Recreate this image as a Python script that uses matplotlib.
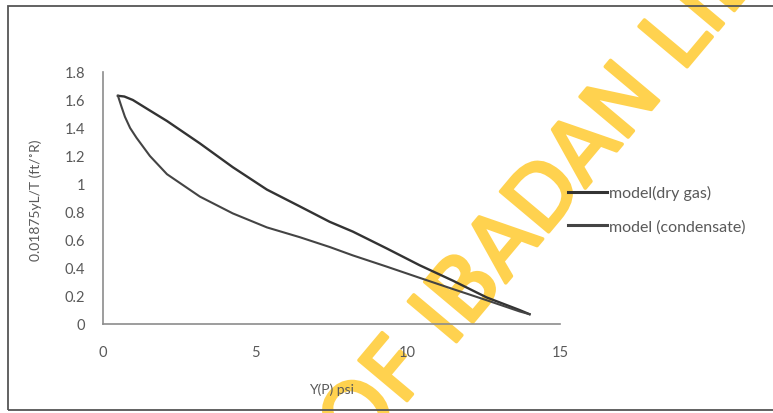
import matplotlib.pyplot as plt
import matplotlib.patheffects as pe
from matplotlib.patches import Rectangle

# Данные
x_dry = [0.49, 0.7, 0.98, 1.5, 2.1, 3.18, 4.26, 5.38, 6.46, 7.44, 8.2, 9.31, 10.39, 11.48, 12.59, 13.67, 14.0]
y_dry = [1.63, 1.625, 1.60, 1.53, 1.45, 1.29, 1.12, 0.96, 0.84, 0.73, 0.66, 0.54, 0.42, 0.31, 0.19, 0.10, 0.07]

x_cond = [0.49, 0.55, 0.61, 0.72, 0.89, 1.10, 1.54, 2.1, 3.18, 4.26, 5.38, 6.46, 7.44, 8.2, 9.31, 10.39, 11.48, 12.59, 13.67, 14.0]
y_cond = [1.63, 1.59, 1.55, 1.48, 1.40, 1.33, 1.20, 1.07, 0.91, 0.79, 0.69, 0.62, 0.55, 0.49, 0.41, 0.33, 0.25, 0.17, 0.09, 0.07]

x_ticks = [0, 5, 10, 15]
y_ticks = [0, 0.2, 0.4, 0.6, 0.8, 1, 1.2, 1.4, 1.6, 1.8]
y_tick_labels = ['0', '0.2', '0.4', '0.6', '0.8', '1', '1.2', '1.4', '1.6', '1.8']

plt.rcParams['font.family'] = ['Lato', 'DejaVu Sans']
text_color = '#595959'

fig = plt.figure(figsize=(7.73, 4.14), dpi=100)
ax = fig.add_axes([103 / 773, 1 - 325 / 414, 457 / 773, 252 / 414])
ax.set_facecolor('none')

# Кривые
ax.plot(x_dry, y_dry, color='#333333', lw=1.7, label='model(dry gas)', zorder=3)
ax.plot(x_cond, y_cond, color='#444444', lw=1.5, label='model (condensate)', zorder=3)

ax.set_xlim(0, 15)
ax.set_ylim(0, 1.8)
ax.set_xticks(x_ticks)
ax.set_yticks(y_ticks)
ax.set_yticklabels(y_tick_labels)
ax.tick_params(axis='both', length=0, labelsize=10.5, colors=text_color)
ax.tick_params(axis='y', pad=13)
ax.tick_params(axis='x', pad=15)

for side in ['top', 'right']:
    ax.spines[side].set_visible(False)
for side in ['left', 'bottom']:
    ax.spines[side].set_color('#8c8c8c')
    ax.spines[side].set_linewidth(1.2)

# Подписи осей
ax.set_xlabel('Y(P) psi', fontsize=10, color=text_color)
ax.xaxis.set_label_coords(0.5, -0.23)
ax.set_ylabel('0.01875yL/T (ft/˚R)', fontsize=10, color=text_color)
ax.yaxis.set_label_coords(-0.133, 0.496)

# Легенда справа
leg = fig.legend(loc='center left', bbox_to_anchor=(568 / 773, 1 - 210.5 / 414),
                 frameon=False, borderpad=0, borderaxespad=0, handlelength=2.45,
                 handletextpad=0.1, labelspacing=1.2, fontsize=11.5)
for t in leg.get_texts():
    t.set_color(text_color)
for h in leg.get_lines():
    h.set_linewidth(2.2)

# Рамка вокруг рисунка
fig.patches.append(Rectangle((8 / 773, 3 / 414), 1.2, 1 - 10 / 414, transform=fig.transFigure,
                             fill=False, edgecolor='#555555', lw=1.3, zorder=1))

# Водяной знак
wm_color = '#ffd24f'
fig.text(358 / 773, 1 - 460 / 414, 'OF IBADAN LIBRARY', rotation=50, rotation_mode='anchor',
         ha='left', va='baseline', fontsize=62, family='DejaVu Sans',
         color=wm_color, zorder=-1,
         path_effects=[pe.withStroke(linewidth=2.5, foreground=wm_color)])

fig.savefig('out.png', dpi=100)
